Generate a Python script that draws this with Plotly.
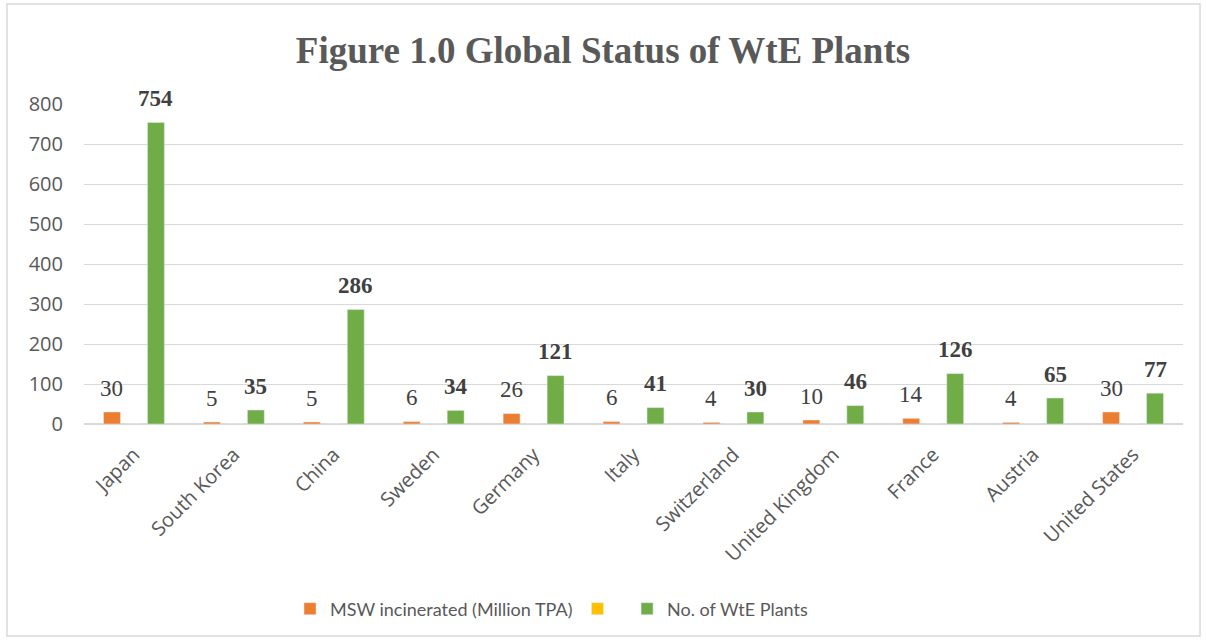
import plotly.graph_objects as go

countries = ["Japan", "South Korea", "China", "Sweden", "Germany", "Italy",
             "Switzerland", "United Kingdom", "France", "Austria", "United States"]
msw = [30, 5, 5, 6, 26, 6, 4, 10, 14, 4, 30]
blank = [0] * len(countries)
plants = [754, 35, 286, 34, 121, 41, 30, 46, 126, 65, 77]

serif = "Liberation Serif, Times New Roman, serif"
sans = "Lato, Carlito, Open Sans, sans-serif"
tickf = "Open Sans, sans-serif"

fig = go.Figure()
fig.add_trace(go.Bar(
    x=countries, y=msw, name="MSW incinerated (Million TPA)",
    marker_color="#ED7D31", cliponaxis=False,
))
fig.add_trace(go.Bar(
    x=countries, y=blank, name=" ",
    marker_color="#FFC000", cliponaxis=False,
))
fig.add_trace(go.Bar(
    x=countries, y=plants, name="No. of WtE Plants",
    marker_color="#70AD47", cliponaxis=False,
))

# data labels tied to the data values (offset to the bar positions within the group)
for c, v in zip(countries, msw):
    fig.add_annotation(x=c, y=v, text=str(v), showarrow=False, xshift=-22, yshift=24,
                       yanchor="middle", font=dict(family=serif, size=23, color="#404040"))
for c, v in zip(countries, plants):
    fig.add_annotation(x=c, y=v, text=f"<b>{v}</b>", showarrow=False, xshift=22, yshift=24,
                       yanchor="middle", font=dict(family=serif, size=23, color="#404040"))

fig.update_layout(
    width=1206, height=643,
    margin=dict(l=84, r=23, t=104, b=219),
    paper_bgcolor="white", plot_bgcolor="white",
    barmode="group", bargap=0.34, bargroupgap=0.23,
    title=dict(text="<b>Figure 1.0 Global Status of WtE Plants</b>",
               x=0.5, xanchor="center", y=0.922, yanchor="middle",
               font=dict(family=serif, size=37, color="#595959")),
    showlegend=True,
    legend=dict(orientation="h", x=(290 - 84) / 1099, xanchor="left", y=-0.578, yanchor="middle",
                font=dict(family=sans, size=18, color="#595959"),
                traceorder="normal"),
)
fig.update_yaxes(range=[0, 800], dtick=100, showgrid=True, gridcolor="#D9D9D9",
                 gridwidth=1.3, zeroline=True, zerolinecolor="#D9D9D9", zerolinewidth=1.5,
                 showline=False, ticks="", tickfont=dict(family=tickf, size=20, color="#595959"),
                 ticklabelstandoff=20)
fig.update_xaxes(tickangle=-45, showline=False, ticks="", ticklabelstandoff=14,
                 tickfont=dict(family=tickf, size=20, color="#595959"))

fig.add_shape(type="rect", xref="paper", yref="paper",
              x0=-0.0701, x1=1.0155, y0=-0.6625, y1=1.3125,
              line=dict(color="#D9D9D9", width=1.5), fillcolor="rgba(0,0,0,0)", layer="below")

fig.write_html("out.html")
